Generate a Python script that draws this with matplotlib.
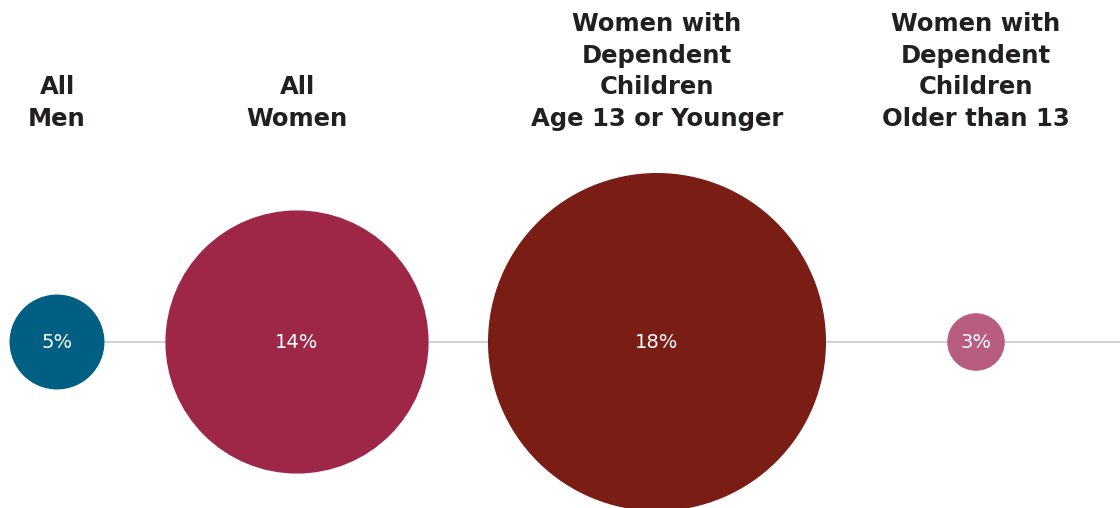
import matplotlib.pyplot as plt
from matplotlib.patches import Circle

groups = ['All\nMen', 'All\nWomen',
          'Women with\nDependent\nChildren\nAge 13 or Younger',
          'Women with\nDependent\nChildren\nOlder than 13']
values = [5, 14, 18, 3]
colors = ['#005f83', '#9e2748', '#7a1e15', '#b85c80']

# layout (pixel coords, y down)
centers_x = [57, 297, 657, 976]
line_y = 342
px_per_pct = 9.35

fig = plt.figure(figsize=(11.2, 5.08), dpi=100)
ax = fig.add_axes([0, 0, 1, 1])
ax.set_xlim(0, 1120)
ax.set_ylim(508, 0)
ax.set_aspect('equal')
ax.axis('off')

ax.plot([10, 1120], [line_y, line_y], color='#d2d2d2', lw=1.5, zorder=1)

for x, v, c, g in zip(centers_x, values, colors, groups):
    ax.add_patch(Circle((x, line_y), v * px_per_pct, color=c, zorder=2))
    ax.text(x, line_y + 1, f'{v}%', color='white', fontsize=14, ha='center', va='center',
            family='DejaVu Sans', zorder=3)
    ax.text(x, 126, g, color='#231f20', fontsize=17.5, fontweight='bold', ha='center',
            va='baseline', family='DejaVu Sans', linespacing=1.4)

plt.savefig('out.png', dpi=100)
